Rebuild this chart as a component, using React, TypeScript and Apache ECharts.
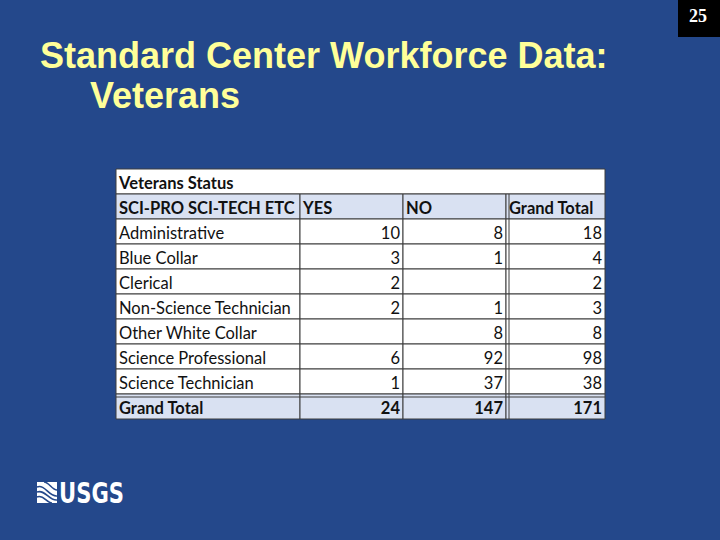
import React, { useEffect, useRef } from "react";
import * as echarts from "echarts";

const titleLines = ["Standard Center Workforce Data:", "Veterans"];
const pageNumber = "25";
const tableTitle = "Veterans Status";
const columnHeaders = ["SCI-PRO SCI-TECH ETC", "YES", "NO", "Grand Total"];
const categories = [
  "Administrative",
  "Blue Collar",
  "Clerical",
  "Non-Science Technician",
  "Other White Collar",
  "Science Professional",
  "Science Technician",
];
const yesValues: (number | null)[] = [10, 3, 2, 2, null, 6, 1];
const noValues: (number | null)[] = [8, 1, null, 1, 8, 92, 37];
const totalValues: (number | null)[] = [18, 4, 2, 3, 8, 98, 38];
const grandTotalLabel = "Grand Total";
const grandTotals = [24, 147, 171];

// layout constants
const COL_EDGES = [0, 184, 287, 390, 489];
const BG = "#24488b";
const HEAD_FILL = "#d9e1f2";
const LINE = "#3c3c3c";
const FONT = "Lato";
const FS = 16.5;

const rowKeys = ["title", "header", ...categories, "total"];

export default function App() {
  const ref = useRef<HTMLDivElement>(null);
  useEffect(() => {
    if (!ref.current) return;
    const chart = echarts.init(ref.current, null, { renderer: "svg" });

    const rowCells = (r: number): { text: string; bold: boolean; fill: string; align: string }[] => {
      if (r === 1)
        return columnHeaders.map((t) => ({ text: t, bold: true, fill: HEAD_FILL, align: "left" }));
      if (r === rowKeys.length - 1)
        return [
          { text: grandTotalLabel, bold: true, fill: HEAD_FILL, align: "left" },
          ...grandTotals.map((v) => ({ text: String(v), bold: true, fill: HEAD_FILL, align: "right" })),
        ];
      const i = r - 2;
      const fmt = (v: number | null) => (v === null ? "" : String(v));
      return [
        { text: categories[i], bold: false, fill: "#ffffff", align: "left" },
        { text: fmt(yesValues[i]), bold: false, fill: "#ffffff", align: "right" },
        { text: fmt(noValues[i]), bold: false, fill: "#ffffff", align: "right" },
        { text: fmt(totalValues[i]), bold: false, fill: "#ffffff", align: "right" },
      ];
    };

    const renderItem = (params: any, api: any) => {
      const r = api.value(1);
      const h = api.size([0, 1])[1];
      const cy = api.coord([0, r])[1];
      const top = cy - h / 2;
      const xs = COL_EDGES.map((e) => api.coord([e, r])[0]);
      const children: any[] = [];
      if (r === 0) {
        children.push({
          type: "rect",
          shape: { x: xs[0], y: top, width: xs[4] - xs[0], height: h },
          style: { fill: "#ffffff", stroke: LINE, lineWidth: 1 },
        });
        children.push({
          type: "text",
          style: {
            text: tableTitle,
            x: xs[0] + 3,
            y: cy + 1,
            textAlign: "left",
            textVerticalAlign: "middle",
            fontFamily: FONT,
            fontWeight: "bold",
            fontSize: FS,
            fill: "#111111",
          },
        });
        return { type: "group", children };
      }
      const cells = rowCells(r);
      cells.forEach((c, ci) => {
        children.push({
          type: "rect",
          shape: { x: xs[ci], y: top, width: xs[ci + 1] - xs[ci], height: h },
          style: { fill: c.fill, stroke: LINE, lineWidth: 1 },
        });
        children.push({
          type: "text",
          style: {
            text: c.text,
            x: c.align === "left" ? xs[ci] + 3 : xs[ci + 1] - 3,
            y: cy + 1,
            textAlign: c.align,
            textVerticalAlign: "middle",
            fontFamily: FONT,
            fontWeight: c.bold ? "bold" : "normal",
            fontSize: FS,
            fill: "#111111",
          },
        });
      });
      children.push({
        type: "line",
        shape: { x1: xs[3] + 3, y1: top, x2: xs[3] + 3, y2: top + h },
        style: { stroke: LINE, lineWidth: 1 },
      });
      if (r === rowKeys.length - 1) {
        children.push({
          type: "line",
          shape: { x1: xs[0], y1: top + 3, x2: xs[4], y2: top + 3 },
          style: { stroke: LINE, lineWidth: 1 },
        });
      }
      return { type: "group", children };
    };

    const titleFont = "bold 36px 'Liberation Sans', Arial, sans-serif";

    chart.setOption({
      animation: false,
      backgroundColor: BG,
      grid: { left: 116, top: 169, width: 489, height: 250 },
      xAxis: { type: "value", min: 0, max: 489, show: false },
      yAxis: { type: "category", data: rowKeys, inverse: true, show: false },
      series: [
        {
          type: "custom",
          renderItem,
          encode: { x: 0, y: 1 },
          data: rowKeys.map((_, i) => [0, i]),
        },
      ],
      graphic: [
        {
          type: "text",
          left: 40,
          top: 37,
          style: { text: titleLines[0], font: titleFont, fill: "#ffff99" },
        },
        {
          type: "text",
          left: 90,
          top: 77,
          style: { text: titleLines[1], font: titleFont, fill: "#ffff99" },
        },
        {
          type: "rect",
          shape: { x: 678, y: 0, width: 42, height: 37 },
          style: { fill: "#000000" },
        },
        {
          type: "text",
          x: 698,
          y: 16,
          style: {
            text: pageNumber,
            font: "bold 18px 'Liberation Serif', 'DejaVu Serif', serif",
            fill: "#ffffff",
            textAlign: "center",
            textVerticalAlign: "middle",
          },
        },
        {
          type: "group",
          children: [
            { type: "rect", shape: { x: 37, y: 482, width: 20, height: 21 }, style: { fill: "#ffffff" } },
            {
              type: "bezierCurve",
              shape: { x1: 37, y1: 487, x2: 57, y2: 496, cpx1: 45, cpy1: 484, cpx2: 49, cpy2: 497 },
              style: { stroke: BG, lineWidth: 1.6, fill: "none" },
            },
            {
              type: "bezierCurve",
              shape: { x1: 37, y1: 492, x2: 57, y2: 500, cpx1: 45, cpy1: 489, cpx2: 49, cpy2: 501 },
              style: { stroke: BG, lineWidth: 1.6, fill: "none" },
            },
            {
              type: "bezierCurve",
              shape: { x1: 37, y1: 497, x2: 52, y2: 503, cpx1: 43, cpy1: 494, cpx2: 47, cpy2: 503 },
              style: { stroke: BG, lineWidth: 1.6, fill: "none" },
            },
            {
              type: "bezierCurve",
              shape: { x1: 44, y1: 482, x2: 57, y2: 490, cpx1: 49, cpy1: 482, cpx2: 52, cpy2: 490 },
              style: { stroke: BG, lineWidth: 1.6, fill: "none" },
            },
            {
              type: "text",
              x: 59,
              y: 493,
              scaleX: 0.84,
              style: {
                text: "USGS",
                font: "bold 28px 'Liberation Sans Narrow', 'DejaVu Sans Condensed', sans-serif",
                fill: "#ffffff",
                textVerticalAlign: "middle",
              },
            },
          ],
        },
      ],
    });
    return () => chart.dispose();
  }, []);
  return (
    <div
      ref={ref}
      style={{ position: "absolute", left: 0, top: 0, width: 720, height: 540 }}
    />
  );
}
